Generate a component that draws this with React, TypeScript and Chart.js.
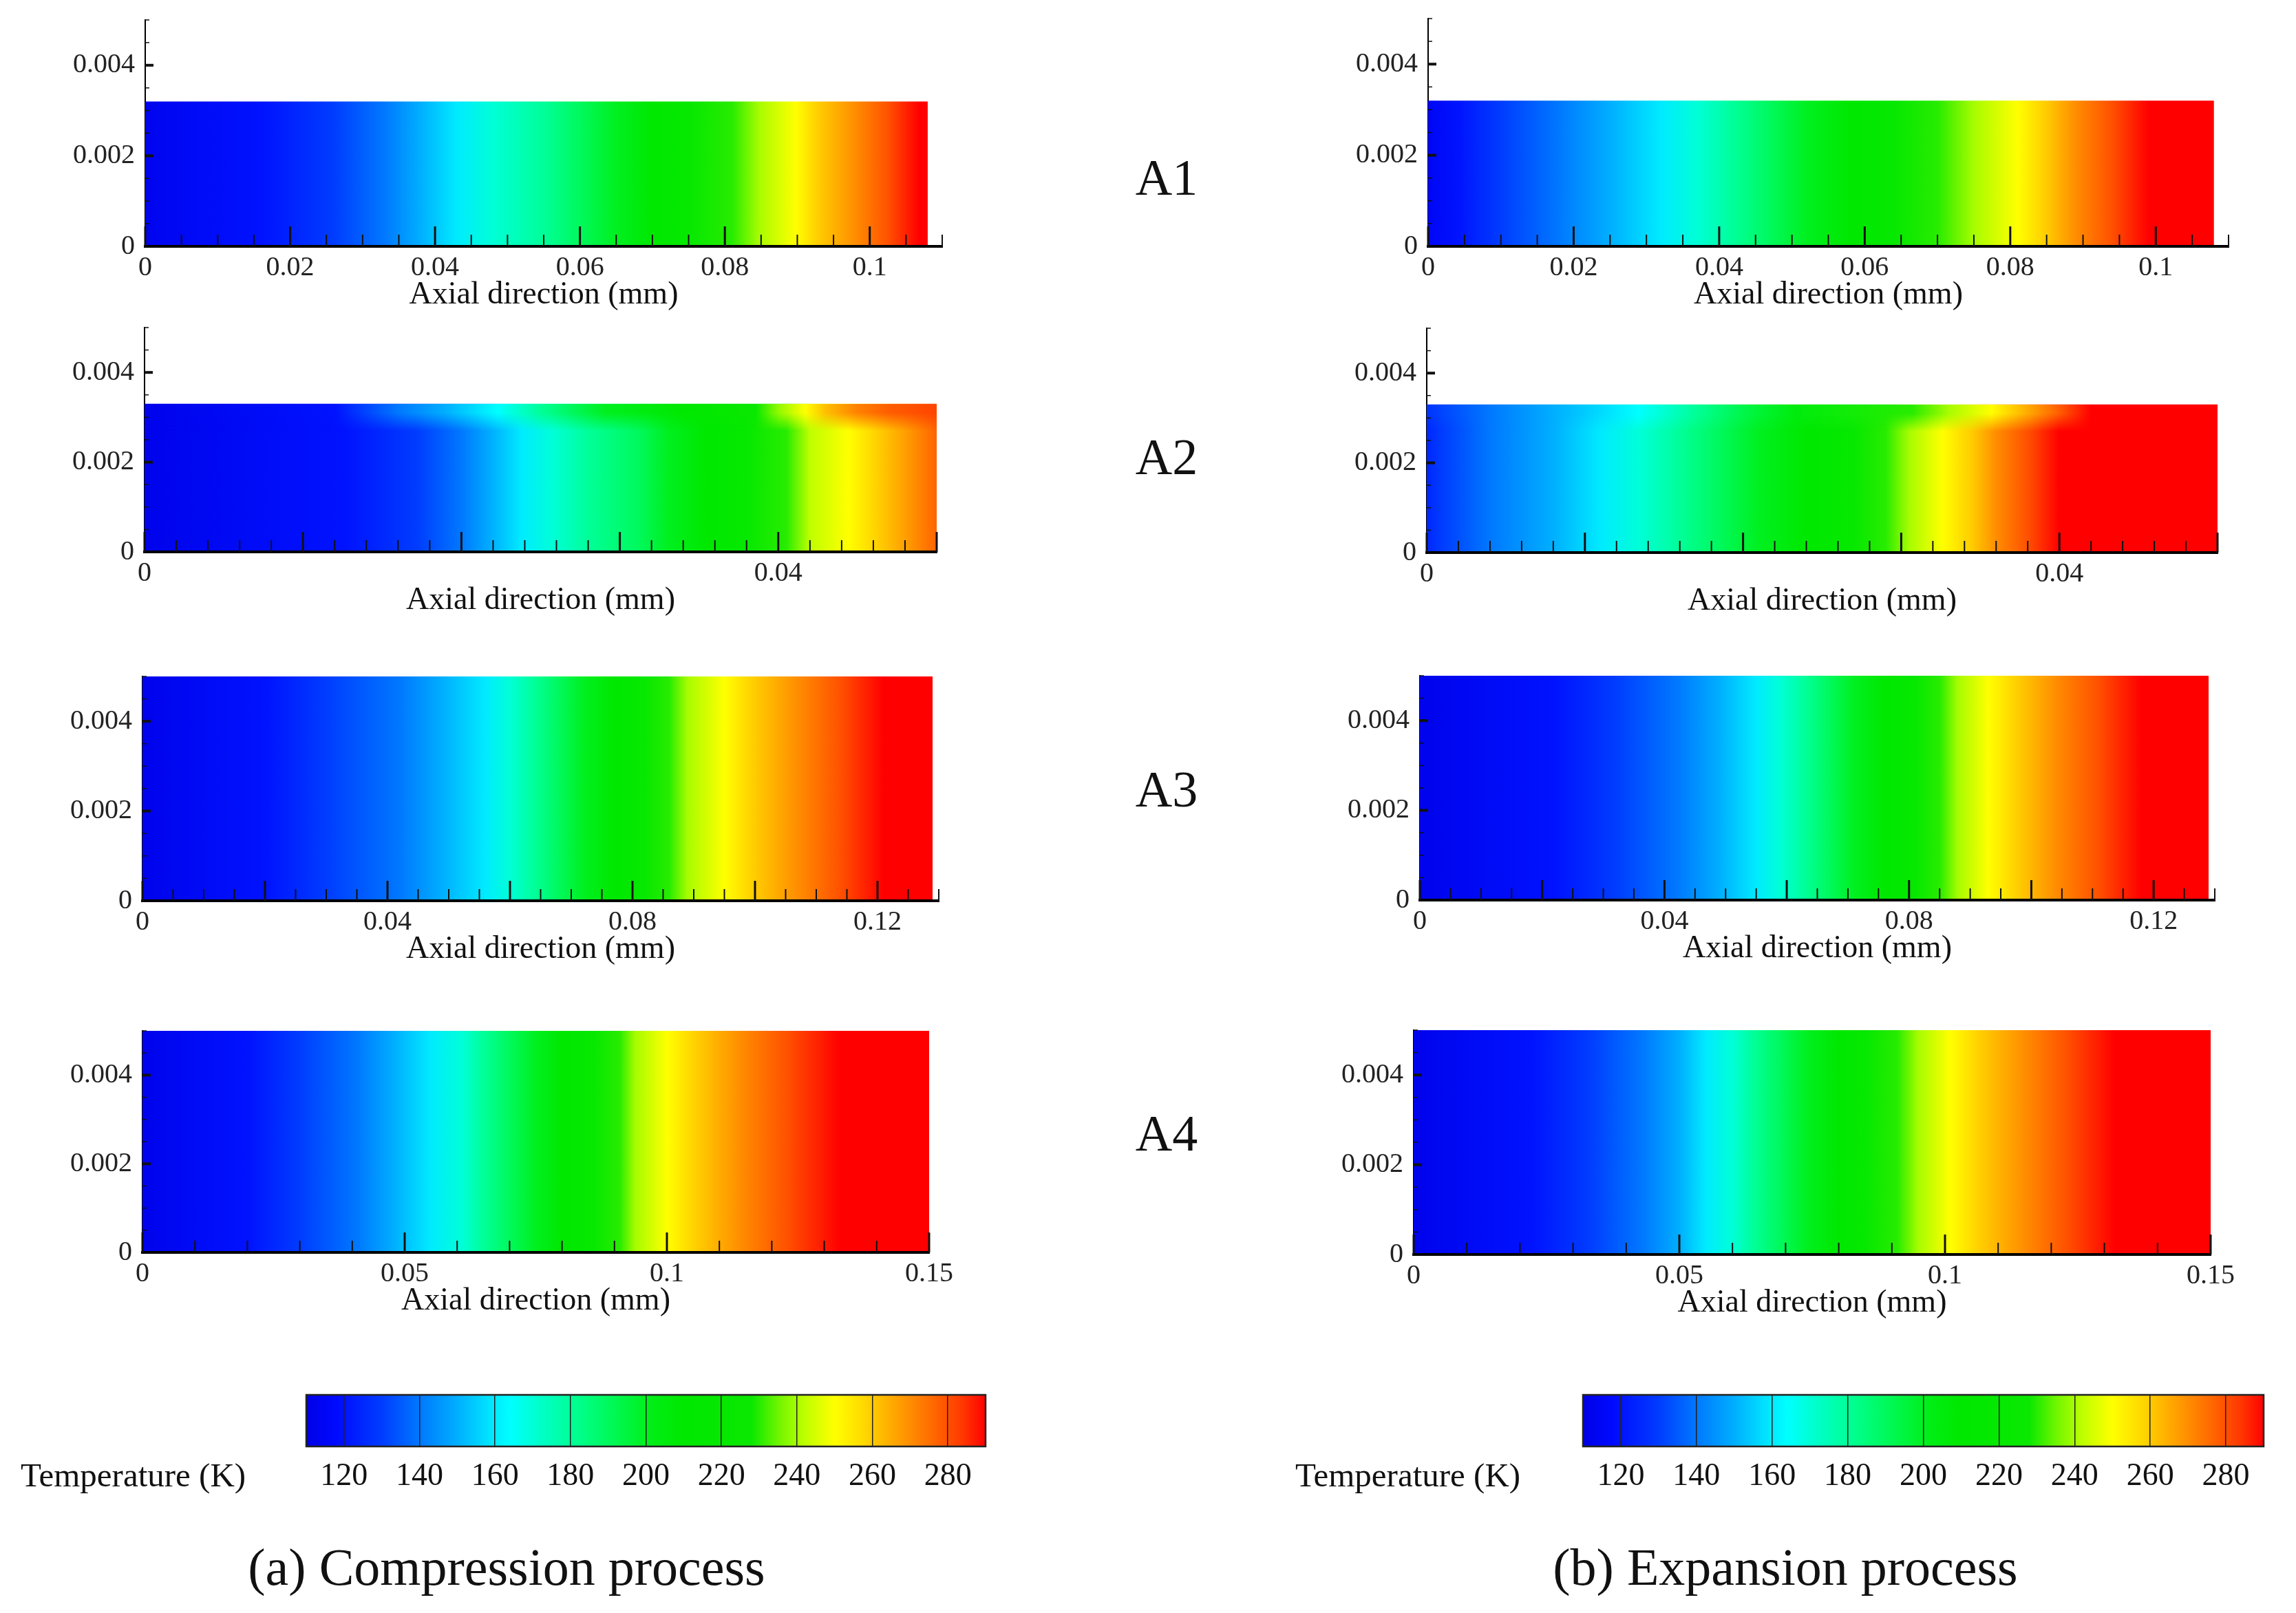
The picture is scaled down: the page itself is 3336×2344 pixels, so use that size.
import React, { useEffect, useRef } from 'react';
import { Chart, registerables } from 'chart.js';
Chart.register(...registerables);

const FONT = "'Liberation Serif', 'Times New Roman', Times, serif";

// ---- colour map (temperature in K -> rgb) ----
const cmapTemps = [110, 118, 130, 140, 150, 158, 164, 172, 182, 192, 202, 210, 228, 235, 242, 250, 258, 266, 276, 284, 290];
const cmapColors = [
  [0, 0, 230], [0, 10, 255], [0, 60, 255], [0, 120, 255], [0, 175, 255], [0, 225, 255], [0, 255, 255],
  [0, 255, 200], [0, 255, 140], [0, 248, 80], [0, 238, 20], [0, 232, 0], [10, 232, 0], [110, 245, 0],
  [190, 255, 0], [255, 255, 0], [255, 215, 0], [255, 165, 0], [255, 105, 0], [255, 55, 0], [255, 0, 0],
];
const colorbarMin = 110;
const colorbarMax = 290;
const colorbarTicks = [120, 140, 160, 180, 200, 220, 240, 260, 280];

// ---- temperature profiles along the axial direction (mm -> K) ----
// (a) compression process
const compA1X = [0, 0.016, 0.026, 0.033, 0.038, 0.043, 0.048, 0.055, 0.060, 0.065, 0.070, 0.075, 0.081, 0.0847, 0.0898, 0.093, 0.098, 0.1026, 0.1068, 0.108];
const compA1T = [113, 120, 130, 140, 150, 160, 170, 180, 190, 200, 210, 220, 230, 240, 250, 260, 270, 280, 290, 290];
const compA2X = [0, 0.0126, 0.0172, 0.020, 0.0219, 0.0238, 0.0258, 0.028, 0.0312, 0.033, 0.0355, 0.038, 0.0405, 0.042, 0.0444, 0.046, 0.048, 0.050];
const compA2T = [112, 120, 130, 140, 150, 160, 170, 180, 190, 200, 210, 220, 230, 242, 250, 258, 267, 277];
// near the top wall of A2 (the isotherms bend there)
const compA2TopX = [0, 0.012, 0.016, 0.019, 0.0223, 0.025, 0.029, 0.034, 0.0386, 0.040, 0.0417, 0.043, 0.045, 0.047, 0.050];
const compA2TopT = [112, 120, 140, 150, 164, 180, 200, 210, 228, 238, 250, 262, 272, 278, 282];
const compA3X = [0, 0.020, 0.030, 0.042, 0.049, 0.056, 0.060, 0.064, 0.068, 0.072, 0.077, 0.082, 0.086, 0.089, 0.095, 0.100, 0.107, 0.114, 0.121, 0.129];
const compA3T = [112, 120, 130, 140, 150, 160, 170, 180, 190, 200, 210, 220, 230, 240, 250, 260, 270, 280, 290, 290];
const compA4X = [0, 0.020, 0.030, 0.041, 0.048, 0.055, 0.061, 0.065, 0.070, 0.075, 0.080, 0.086, 0.091, 0.094, 0.100, 0.106, 0.114, 0.123, 0.133, 0.150];
const compA4T = [112, 120, 130, 140, 150, 160, 170, 180, 190, 200, 210, 220, 230, 240, 250, 260, 270, 280, 290, 290];
// (b) expansion process
const expA1X = [0, 0.004, 0.010, 0.018, 0.025, 0.032, 0.037, 0.042, 0.047, 0.052, 0.058, 0.064, 0.070, 0.075, 0.081, 0.085, 0.089, 0.094, 0.099, 0.108];
const expA1T = [115, 120, 130, 140, 150, 160, 170, 180, 190, 200, 210, 220, 230, 240, 250, 260, 270, 280, 290, 290];
const expA2X = [0, 0.001, 0.004, 0.008, 0.011, 0.0135, 0.016, 0.0185, 0.021, 0.024, 0.027, 0.029, 0.0305, 0.0326, 0.0345, 0.036, 0.038, 0.040, 0.050];
const expA2T = [125, 130, 140, 150, 160, 170, 180, 190, 200, 210, 220, 230, 240, 250, 260, 270, 280, 290, 290];
const expA2TopX = [0, 0.004, 0.009, 0.0134, 0.017, 0.0205, 0.0233, 0.0307, 0.033, 0.0357, 0.038, 0.040, 0.042, 0.050];
const expA2TopT = [128, 140, 152, 164, 180, 195, 205, 230, 240, 250, 265, 278, 290, 290];
const expA3X = [0, 0.022, 0.032, 0.042, 0.049, 0.055, 0.059, 0.063, 0.067, 0.071, 0.076, 0.081, 0.085, 0.088, 0.093, 0.098, 0.104, 0.111, 0.118, 0.129];
const expA3T = [112, 120, 130, 140, 150, 160, 170, 180, 190, 200, 210, 220, 230, 240, 250, 260, 270, 280, 290, 290];
const expA4X = [0, 0.022, 0.033, 0.043, 0.050, 0.055, 0.060, 0.064, 0.069, 0.074, 0.080, 0.085, 0.091, 0.095, 0.101, 0.107, 0.115, 0.123, 0.132, 0.150];
const expA4T = [112, 120, 130, 140, 150, 160, 170, 180, 190, 200, 210, 220, 230, 240, 250, 260, 270, 280, 290, 290];

// ---- axes ----
const rowNames = ['A1', 'A2', 'A3', 'A4'];
const xAxisMax = [0.11, 0.05, 0.13, 0.15];
const fluidHeight = [0.0032, 0.0033, 0.005, 0.005];
const topLayerFrom = 0.0027;
const topLayerFull = 0.0031;
const yAxisMax = 0.005;
const yTickLabels = [0, 0.002, 0.004];
const a1XTickLabels = [0, 0.02, 0.04, 0.06, 0.08, 0.1];
const a2XTickLabels = [0, 0.04];
const a3XTickLabels = [0, 0.04, 0.08, 0.12];
const a4XTickLabels = [0, 0.05, 0.1, 0.15];
const xMajorStep = [0.02, 0.01, 0.02, 0.05];
const xMinorStep = [0.005, 0.002, 0.005, 0.01];

// ---- layout (pixel boxes of each plotting area) ----
const compBoxes = [
  { left: 211, right: 1369, top: 29, bottom: 358 },
  { left: 210, right: 1361, top: 476, bottom: 802 },
  { left: 207, right: 1364, top: 983, bottom: 1309 },
  { left: 207, right: 1350, top: 1498, bottom: 1820 },
];
const expBoxes = [
  { left: 2075, right: 3238, top: 27, bottom: 358 },
  { left: 2073, right: 3222, top: 477, bottom: 803 },
  { left: 2063, right: 3218, top: 982, bottom: 1308 },
  { left: 2054, right: 3212, top: 1497, bottom: 1823 },
];
const rowLabelY = [258, 664, 1147, 1647];

function colorAt(t: number): string {
  const c = (a: number[]) => `rgb(${Math.round(a[0])},${Math.round(a[1])},${Math.round(a[2])})`;
  if (t <= cmapTemps[0]) return c(cmapColors[0]);
  for (let i = 1; i < cmapTemps.length; i++) {
    if (t <= cmapTemps[i]) {
      const f = (t - cmapTemps[i - 1]) / (cmapTemps[i] - cmapTemps[i - 1]);
      const a = cmapColors[i - 1];
      const b = cmapColors[i];
      return c([a[0] + (b[0] - a[0]) * f, a[1] + (b[1] - a[1]) * f, a[2] + (b[2] - a[2]) * f]);
    }
  }
  return c(cmapColors[cmapColors.length - 1]);
}

function gradientOn(ctx: CanvasRenderingContext2D, sx: any, xs: number[], ts: number[]) {
  const p0 = sx.getPixelForValue(xs[0]);
  const p1 = sx.getPixelForValue(xs[xs.length - 1]);
  const g = ctx.createLinearGradient(p0, 0, p1, 0);
  for (let i = 0; i < xs.length; i++) {
    const f = (sx.getPixelForValue(xs[i]) - p0) / (p1 - p0);
    g.addColorStop(Math.min(1, Math.max(0, f)), colorAt(ts[i]));
  }
  return g;
}

function makeGradient(chart: any, xs: number[], ts: number[]) {
  const { ctx, chartArea, scales } = chart;
  if (!chartArea) return 'rgba(0,0,0,0)';
  return gradientOn(ctx, scales.x, xs, ts);
}

const fmt = (v: number) => String(Number(Number(v).toFixed(4)));

const PAD_L = 200;
const PAD_R = 70;
const PAD_T = 50;
const X_H = 100;

type PanelProps = {
  xs: number[];
  ts: number[];
  topXs?: number[];
  topTs?: number[];
  row: number;
  labels: number[];
  box: { left: number; right: number; top: number; bottom: number };
};

function ContourPanel({ xs, ts, topXs, topTs, row, labels, box }: PanelProps) {
  const ref = useRef<HTMLCanvasElement>(null);
  const width = box.right - box.left + PAD_L + PAD_R;
  const height = box.bottom - box.top + PAD_T + X_H;
  useEffect(() => {
    const xMax = xAxisMax[row];
    const major = xMajorStep[row];
    const minor = xMinorStep[row];
    const topLayerPlugin = {
      id: 'topLayer',
      afterDatasetsDraw(chart: any) {
        if (!topXs || !topTs) return;
        const { ctx, scales } = chart;
        const sx = scales.x;
        const sy = scales.y;
        const off = document.createElement('canvas');
        off.width = chart.width;
        off.height = chart.height;
        const o = off.getContext('2d') as CanvasRenderingContext2D;
        const xL = sx.getPixelForValue(topXs[0]);
        const xR = sx.getPixelForValue(topXs[topXs.length - 1]);
        const yT = sy.getPixelForValue(fluidHeight[row]);
        const yB = sy.getPixelForValue(topLayerFrom);
        const yF = sy.getPixelForValue(topLayerFull);
        o.fillStyle = gradientOn(o, sx, topXs, topTs);
        o.fillRect(xL, yT, xR - xL, yB - yT);
        o.globalCompositeOperation = 'destination-in';
        const m = o.createLinearGradient(0, yB, 0, yT);
        m.addColorStop(0, 'rgba(0,0,0,0)');
        m.addColorStop((yB - yF) / (yB - yT), 'rgba(0,0,0,1)');
        m.addColorStop(1, 'rgba(0,0,0,1)');
        o.fillStyle = m;
        o.fillRect(xL, yT, xR - xL, yB - yT);
        ctx.drawImage(off, 0, 0);
      },
    };
    const tickPlugin = {
      id: 'inwardTicks',
      afterDraw(chart: any) {
        const { ctx, chartArea: a, scales } = chart;
        const sx = scales.x;
        const sy = scales.y;
        ctx.save();
        ctx.strokeStyle = '#111';
        const n = Math.round(xMax / minor);
        const ratio = Math.round(major / minor);
        for (let i = 0; i <= n; i++) {
          const px = sx.getPixelForValue(i * minor);
          const isMajor = i % ratio === 0;
          ctx.lineWidth = isMajor ? 3 : 2;
          ctx.beginPath();
          ctx.moveTo(px, a.bottom);
          ctx.lineTo(px, a.bottom - (isMajor ? 29 : 17));
          ctx.stroke();
        }
        for (let j = 1; j <= 10; j++) {
          const py = sy.getPixelForValue(j * 0.0005);
          const isMajor = j % 4 === 0;
          ctx.lineWidth = isMajor ? 4 : 1.5;
          ctx.beginPath();
          ctx.moveTo(a.left, py);
          ctx.lineTo(a.left + (isMajor ? 12 : 6), py);
          ctx.stroke();
        }
        ctx.restore();
      },
    };
    const chart = new Chart(ref.current as HTMLCanvasElement, {
      type: 'line',
      data: {
        datasets: [
          {
            data: [
              { x: xs[0], y: fluidHeight[row] },
              { x: xs[xs.length - 1], y: fluidHeight[row] },
            ],
            fill: 'origin',
            borderWidth: 0,
            borderColor: 'rgba(0,0,0,0)',
            pointRadius: 0,
            backgroundColor: (c: any) => makeGradient(c.chart, xs, ts),
          } as any,
        ],
      },
      options: {
        responsive: false,
        animation: false,
        devicePixelRatio: 1,
        layout: { padding: { left: 0, right: PAD_R, top: PAD_T, bottom: 0 } },
        plugins: { legend: { display: false }, tooltip: { enabled: false } },
        scales: {
          x: {
            type: 'linear',
            min: 0,
            max: xMax,
            z: 1,
            afterBuildTicks: (s: any) => { s.ticks = labels.map((v) => ({ value: v })); },
            afterFit: (s: any) => { s.height = X_H; },
            grid: { display: false, drawTicks: false },
            border: { display: true, color: '#000', width: 4, z: 1 },
            ticks: { font: { family: FONT, size: 40 }, color: '#222', padding: 7, maxRotation: 0, autoSkip: false, callback: (v: any) => fmt(v) },
            title: { display: true, text: 'Axial direction (mm)', font: { family: FONT, size: 46 }, color: '#111', padding: { top: 0, bottom: 1 } },
          },
          y: {
            type: 'linear',
            min: 0,
            max: yAxisMax,
            afterBuildTicks: (s: any) => { s.ticks = yTickLabels.map((v) => ({ value: v })); },
            afterFit: (s: any) => { s.width = PAD_L; },
            grid: { display: false, drawTicks: false },
            border: { display: true, color: '#000', width: 2 },
            ticks: { font: { family: FONT, size: 40 }, color: '#222', padding: 15, callback: (v: any) => fmt(v) },
          },
        },
      } as any,
      plugins: [topLayerPlugin, tickPlugin],
    });
    return () => chart.destroy();
  }, []);
  return (
    <canvas
      ref={ref}
      width={width}
      height={height}
      style={{ position: 'absolute', left: box.left - PAD_L, top: box.top - PAD_T, width, height }}
    />
  );
}

function ColorBar({ left, right, top, bottom }: { left: number; right: number; top: number; bottom: number }) {
  const ref = useRef<HTMLCanvasElement>(null);
  const padX = 40;
  const padT = 20;
  const axisH = 90;
  const width = right - left + 2 * padX;
  const height = bottom - top + padT + axisH;
  useEffect(() => {
    const outline = {
      id: 'outline',
      afterDraw(chart: any) {
        const { ctx, chartArea: a } = chart;
        ctx.save();
        ctx.strokeStyle = '#222';
        ctx.lineWidth = 2.5;
        ctx.strokeRect(a.left, a.top, a.right - a.left, a.bottom - a.top);
        ctx.restore();
      },
    };
    const chart = new Chart(ref.current as HTMLCanvasElement, {
      type: 'line',
      data: {
        datasets: [
          {
            data: [
              { x: colorbarMin, y: 1 },
              { x: colorbarMax, y: 1 },
            ],
            fill: 'origin',
            borderWidth: 0,
            borderColor: 'rgba(0,0,0,0)',
            pointRadius: 0,
            backgroundColor: (c: any) => makeGradient(c.chart, cmapTemps, cmapTemps),
          } as any,
        ],
      },
      options: {
        responsive: false,
        animation: false,
        devicePixelRatio: 1,
        layout: { padding: { left: padX, right: padX, top: padT, bottom: 0 } },
        plugins: { legend: { display: false }, tooltip: { enabled: false } },
        scales: {
          x: {
            type: 'linear',
            min: colorbarMin,
            max: colorbarMax,
            z: 1,
            afterBuildTicks: (s: any) => { s.ticks = colorbarTicks.map((v) => ({ value: v })); },
            afterFit: (s: any) => { s.height = axisH; },
            grid: { display: true, drawOnChartArea: true, drawTicks: false, color: '#222', lineWidth: 1.5, z: 1 },
            border: { display: false },
            ticks: { font: { family: FONT, size: 46 }, color: '#111', padding: 16, maxRotation: 0, autoSkip: false },
          },
          y: { type: 'linear', min: 0, max: 1, display: false },
        },
      } as any,
      plugins: [outline],
    });
    return () => chart.destroy();
  }, []);
  return (
    <canvas
      ref={ref}
      width={width}
      height={height}
      style={{ position: 'absolute', left: left - padX, top: top - padT, width, height }}
    />
  );
}

const textBase: React.CSSProperties = { position: 'absolute', fontFamily: FONT, color: '#111', whiteSpace: 'nowrap', lineHeight: 1 };

export default function App() {
  const compXs = [compA1X, compA2X, compA3X, compA4X];
  const compTs = [compA1T, compA2T, compA3T, compA4T];
  const expXs = [expA1X, expA2X, expA3X, expA4X];
  const expTs = [expA1T, expA2T, expA3T, expA4T];
  const labelSets = [a1XTickLabels, a2XTickLabels, a3XTickLabels, a4XTickLabels];
  return (
    <div style={{ position: 'absolute', left: 0, top: 0, width: 3336, height: 2344, background: '#fff', overflow: 'hidden' }}>
      {rowNames.map((_, r) => (
        <ContourPanel
          key={'c' + r}
          xs={compXs[r]}
          ts={compTs[r]}
          topXs={r === 1 ? compA2TopX : undefined}
          topTs={r === 1 ? compA2TopT : undefined}
          row={r}
          labels={labelSets[r]}
          box={compBoxes[r]}
        />
      ))}
      {rowNames.map((_, r) => (
        <ContourPanel
          key={'e' + r}
          xs={expXs[r]}
          ts={expTs[r]}
          topXs={r === 1 ? expA2TopX : undefined}
          topTs={r === 1 ? expA2TopT : undefined}
          row={r}
          labels={labelSets[r]}
          box={expBoxes[r]}
        />
      ))}
      {rowNames.map((name, r) => (
        <div key={name} style={{ ...textBase, left: 1695, top: rowLabelY[r], fontSize: 74, transform: 'translate(-50%, -50%)' }}>
          {name}
        </div>
      ))}
      <ColorBar left={445} right={1432} top={2027} bottom={2102} />
      <ColorBar left={2300} right={3289} top={2027} bottom={2102} />
      <div style={{ ...textBase, left: 30, top: 2143, fontSize: 49, transform: 'translateY(-50%)' }}>Temperature (K)</div>
      <div style={{ ...textBase, left: 1882, top: 2143, fontSize: 49, transform: 'translateY(-50%)' }}>Temperature (K)</div>
      <div style={{ ...textBase, left: 736, top: 2277, fontSize: 76, transform: 'translate(-50%, -50%)' }}>(a) Compression process</div>
      <div style={{ ...textBase, left: 2594, top: 2277, fontSize: 76, transform: 'translate(-50%, -50%)' }}>(b) Expansion process</div>
    </div>
  );
}
